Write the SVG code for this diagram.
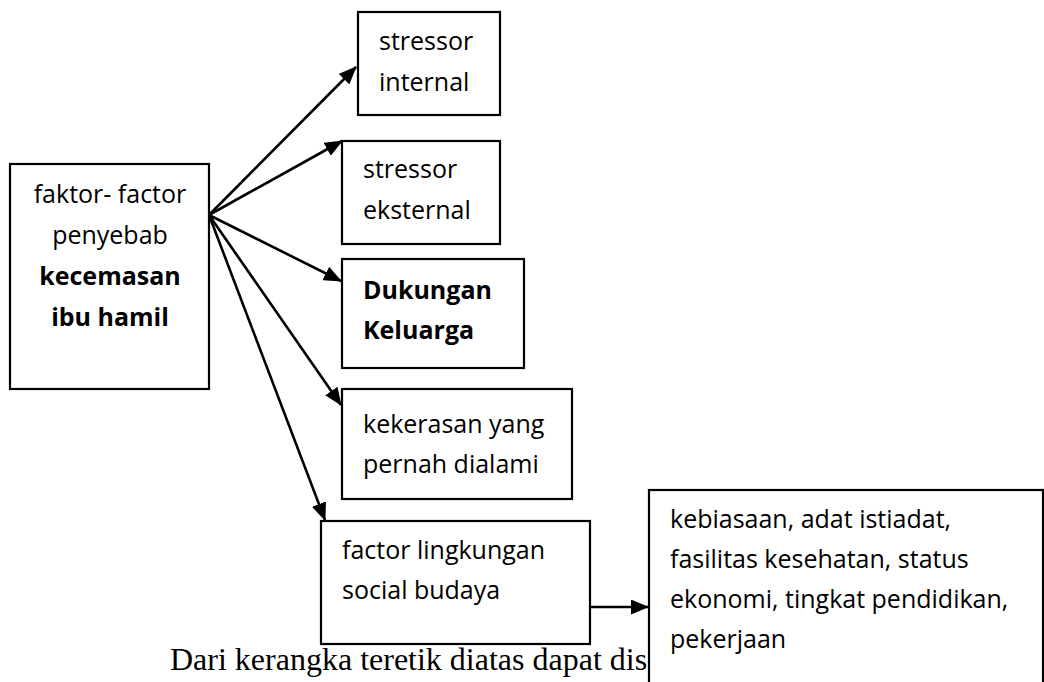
<svg xmlns="http://www.w3.org/2000/svg" width="1044" height="682" viewBox="0 0 1044 682">
<style>
.box{fill:#fff;stroke:#000;stroke-width:2.2}
.t{font-family:"Open Sans","Liberation Sans",sans-serif;font-size:25px;fill:#000}
.b{font-weight:bold}
.c{text-anchor:middle}
.edge{stroke:#000;stroke-width:2.6;fill:none;marker-end:url(#ah)}
.serif{font-family:"Liberation Serif","Times New Roman",serif;font-size:32px;fill:#000}
</style>
<defs>
<marker id="ah" markerUnits="userSpaceOnUse" markerWidth="18" markerHeight="15" viewBox="0 0 18 15" refX="17" refY="7.5" orient="auto">
<path d="M0,0 L18,7.5 L0,15 z" fill="#000"/>
</marker>
</defs>
<rect width="1044" height="682" fill="#fff"/>
<text class="serif" x="170" y="670">Dari kerangka teretik diatas dapat dis</text>
<g id="connectors">
<line class="edge" x1="209" y1="215" x2="356" y2="67"/>
<line class="edge" x1="209" y1="215" x2="342" y2="141"/>
<line class="edge" x1="209" y1="215" x2="341" y2="281"/>
<line class="edge" x1="209" y1="215" x2="341" y2="405"/>
<line class="edge" x1="209" y1="215" x2="325" y2="520"/>
<line class="edge" x1="590" y1="607" x2="648" y2="607"/>
</g>
<g id="main">
<rect class="box" x="10" y="164" width="199" height="225"/>
<text class="t c" x="110" y="203">faktor- factor</text>
<text class="t c" x="110" y="244">penyebab</text>
<text class="t c b" x="110" y="285">kecemasan</text>
<text class="t c b" x="110" y="326">ibu hamil</text>
</g>
<g id="stressor-internal">
<rect class="box" x="358" y="12" width="142" height="103"/>
<text class="t" x="379" y="50">stressor</text>
<text class="t" x="379" y="91">internal</text>
</g>
<g id="stressor-eksternal">
<rect class="box" x="342" y="141" width="158" height="103"/>
<text class="t" x="363" y="178">stressor</text>
<text class="t" x="363" y="219">eksternal</text>
</g>
<g id="dukungan-keluarga">
<rect class="box" x="342" y="259" width="182" height="109"/>
<text class="t b" x="363" y="299">Dukungan</text>
<text class="t b" x="363" y="339">Keluarga</text>
</g>
<g id="kekerasan">
<rect class="box" x="342" y="389" width="230" height="110"/>
<text class="t" x="363" y="433">kekerasan yang</text>
<text class="t" x="363" y="473">pernah dialami</text>
</g>
<g id="lingkungan">
<rect class="box" x="321" y="521" width="269" height="123"/>
<text class="t" x="342" y="559">factor lingkungan</text>
<text class="t" x="342" y="599">social budaya</text>
</g>
<g id="detail">
<rect class="box" x="649" y="490" width="394" height="200"/>
<text class="t" x="670" y="528">kebiasaan, adat istiadat,</text>
<text class="t" x="670" y="568">fasilitas kesehatan, status</text>
<text class="t" x="670" y="608">ekonomi, tingkat pendidikan,</text>
<text class="t" x="670" y="648">pekerjaan</text>
</g>
</svg>
